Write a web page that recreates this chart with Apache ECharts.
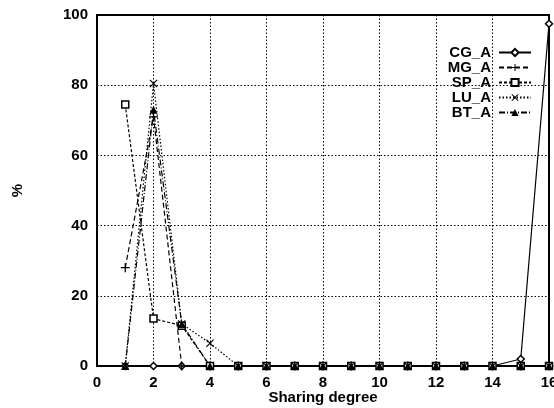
<!DOCTYPE html>
<html><head><meta charset="utf-8">
<script src="https://cdn.jsdelivr.net/npm/echarts@6/dist/echarts.min.js"></script>
<style>html,body{margin:0;padding:0;background:#fff}#c{width:554px;height:408px}</style>
</head><body><div id="c"></div>
<script>
const degrees = [1,2,3,4,5,6,7,8,9,10,11,12,13,14,15,16];
const CG_A = [0,0,0,0,0,0,0,0,0,0,0,0,0,0,2,97.5];
const MG_A = [28,71,0,0,0,0,0,0,0,0,0,0,0,0,0,0];
const SP_A = [74.5,13.5,11.5,0,0,0,0,0,0,0,0,0,0,0,0,0];
const LU_A = [0,80.5,12,6.5,0,0,0,0,0,0,0,0,0,0,0,0];
const BT_A = [0,73,12,0,0,0,0,0,0,0,0,0,0,0,0,0];
const xTicks = [0,2,4,6,8,10,12,14,16];
const yTicks = [0,20,40,60,80,100];

const font = 'Liberation Sans, Arial, sans-serif';
const pair = arr => degrees.map((d,i)=>[d,arr[i]]);
const PLUS = 'path://M4.3,0H5.7V4.3H10V5.7H5.7V10H4.3V5.7H0V4.3H4.3Z';
const CROSS = 'path://M1,0L5,4L9,0L10,1L6,5L10,9L9,10L5,6L1,10L0,9L4,5L0,1Z';
function mk(name, arr, symbol, size, type, fill){
  return {name, type:'line', data:pair(arr), symbol, symbolSize:size,
    lineStyle:{color:'#000', width:1.2, type},
    itemStyle:{color:fill, borderColor:'#000', borderWidth: fill==='#fff'?1.5:0},
    z: 3, animation:false};
}
const chart = echarts.init(document.getElementById('c'));
chart.setOption({
  animation:false,
  grid:{left:97, right:5, top:15, bottom:42, show:true, borderColor:'#000', borderWidth:2,
    containLabel:false, outerBoundsMode:'none'},
  xAxis:{type:'value', min:0, max:16, interval:2,
    name:'Sharing degree', nameLocation:'middle', nameGap:24, nameMoveOverlap:false,
    nameTextStyle:{fontFamily:font, fontWeight:'bold', fontSize:15, color:'#000'},
    axisLine:{show:true, lineStyle:{color:'#000', width:2}},
    axisTick:{show:false},
    axisLabel:{fontFamily:font, fontWeight:'bold', fontSize:15, color:'#000', margin:9,
      formatter: v => xTicks.includes(v) ? String(v) : ''},
    splitLine:{show:true, lineStyle:{color:'#000', type:[1.5,2], width:1}}},
  yAxis:{type:'value', min:0, max:100, interval:20,
    name:'%', nameLocation:'middle', nameGap:72, nameRotate:90, nameMoveOverlap:false,
    nameTextStyle:{fontFamily:font, fontWeight:'bold', fontSize:15, color:'#000'},
    axisLine:{show:true, lineStyle:{color:'#000', width:2}},
    axisTick:{show:false},
    axisLabel:{fontFamily:font, fontWeight:'bold', fontSize:15, color:'#000', margin:9,
      formatter: v => yTicks.includes(v) ? String(v) : ''},
    splitLine:{show:true, lineStyle:{color:'#000', type:[1.5,2], width:1}}},
  legend:{right:17, top:40, orient:'vertical', align:'right', itemGap:0,
    itemWidth:32, itemHeight:9,
    textStyle:{fontFamily:font, fontWeight:'bold', fontSize:15, color:'#000', padding:[0,3,0,0]},
    data:['CG_A','MG_A','SP_A','LU_A','BT_A']},
  series:[
    mk('CG_A', CG_A, 'diamond', 7, 'solid', '#fff'),
    mk('MG_A', MG_A, PLUS, 9, [5,3], '#000'),
    mk('SP_A', SP_A, 'rect', 7, [3,2], '#fff'),
    mk('LU_A', LU_A, CROSS, 8, [1.5,2], '#000'),
    mk('BT_A', BT_A, 'triangle', 8, [6,2,1,2], '#000')
  ]
});
</script></body></html>
